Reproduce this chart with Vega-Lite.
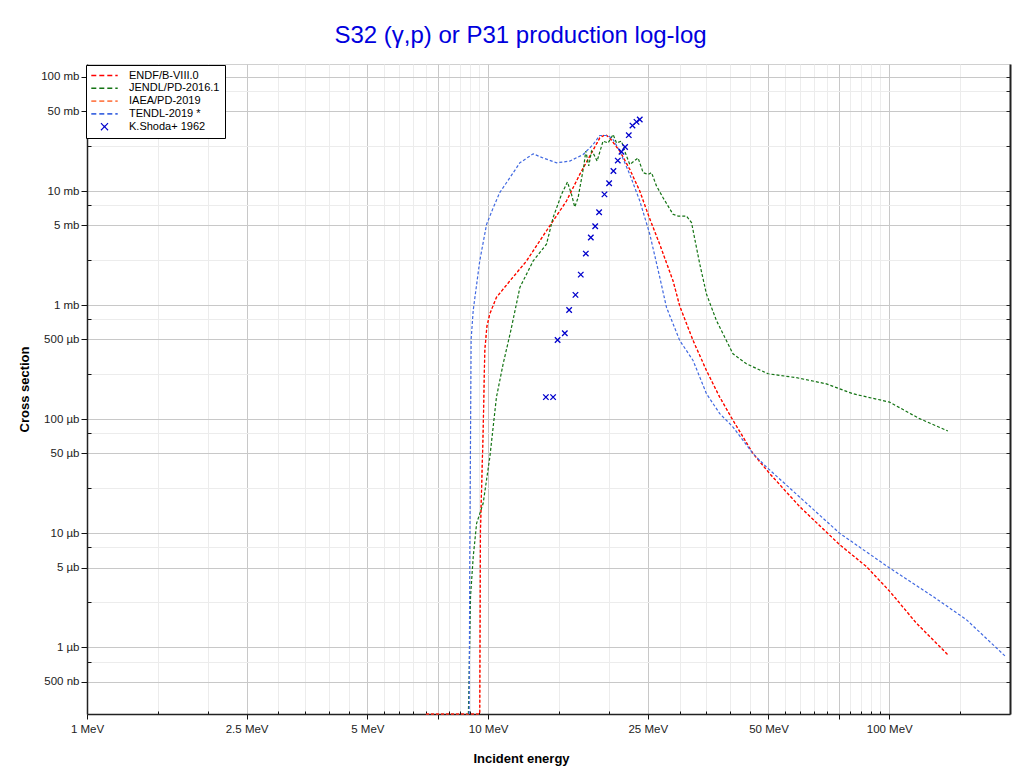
{
  "$schema": "https://vega.github.io/schema/vega-lite/v6.json",
  "width": 923,
  "height": 650,
  "autosize": {"type": "none"},
  "padding": {"left": 87, "top": 64, "right": 14, "bottom": 60},
  "background": "white",
  "title": {
    "text": "S32 (γ,p) or P31 production log-log",
    "color": "#0000dd",
    "fontSize": 24,
    "fontWeight": "normal",
    "font": "Liberation Sans",
    "anchor": "middle",
    "dx": -28,
    "dy": 24,
    "offset": 21,
    "baseline": "alphabetic"
  },
  "config": {
    "font": "Liberation Sans",
    "view": {"stroke": "#d0d0d0"}
  },
  "data": {
    "values": [
      {"s": "ENDF/B-VIII.0", "e": 7.0, "v": 1e-7},
      {"s": "ENDF/B-VIII.0", "e": 9.5, "v": 1e-7},
      {"s": "ENDF/B-VIII.0", "e": 9.53, "v": 0.00024},
      {"s": "ENDF/B-VIII.0", "e": 9.57, "v": 0.0107},
      {"s": "ENDF/B-VIII.0", "e": 9.72, "v": 0.0798},
      {"s": "ENDF/B-VIII.0", "e": 9.81, "v": 0.40},
      {"s": "ENDF/B-VIII.0", "e": 9.93, "v": 0.65},
      {"s": "ENDF/B-VIII.0", "e": 10.1, "v": 0.84},
      {"s": "ENDF/B-VIII.0", "e": 10.49, "v": 1.17},
      {"s": "ENDF/B-VIII.0", "e": 11.33, "v": 1.63},
      {"s": "ENDF/B-VIII.0", "e": 12.47, "v": 2.44},
      {"s": "ENDF/B-VIII.0", "e": 13.45, "v": 3.66},
      {"s": "ENDF/B-VIII.0", "e": 14.52, "v": 5.47},
      {"s": "ENDF/B-VIII.0", "e": 15.68, "v": 8.18},
      {"s": "ENDF/B-VIII.0", "e": 16.92, "v": 14.0},
      {"s": "ENDF/B-VIII.0", "e": 17.92, "v": 20.2},
      {"s": "ENDF/B-VIII.0", "e": 18.98, "v": 29.2},
      {"s": "ENDF/B-VIII.0", "e": 19.61, "v": 31.3},
      {"s": "ENDF/B-VIII.0", "e": 20.1, "v": 29.2},
      {"s": "ENDF/B-VIII.0", "e": 21.29, "v": 22.4},
      {"s": "ENDF/B-VIII.0", "e": 22.55, "v": 15.5},
      {"s": "ENDF/B-VIII.0", "e": 23.88, "v": 10.0},
      {"s": "ENDF/B-VIII.0", "e": 25.2, "v": 5.9},
      {"s": "ENDF/B-VIII.0", "e": 26.79, "v": 3.4},
      {"s": "ENDF/B-VIII.0", "e": 28.91, "v": 1.63},
      {"s": "ENDF/B-VIII.0", "e": 30.04, "v": 0.98},
      {"s": "ENDF/B-VIII.0", "e": 32.43, "v": 0.489},
      {"s": "ENDF/B-VIII.0", "e": 35.02, "v": 0.267},
      {"s": "ENDF/B-VIII.0", "e": 37.79, "v": 0.156},
      {"s": "ENDF/B-VIII.0", "e": 40.78, "v": 0.0977},
      {"s": "ENDF/B-VIII.0", "e": 45.75, "v": 0.0499},
      {"s": "ENDF/B-VIII.0", "e": 50.35, "v": 0.0333},
      {"s": "ENDF/B-VIII.0", "e": 59.8, "v": 0.0171},
      {"s": "ENDF/B-VIII.0", "e": 75.2, "v": 0.00794},
      {"s": "ENDF/B-VIII.0", "e": 87.7, "v": 0.0051},
      {"s": "ENDF/B-VIII.0", "e": 100.4, "v": 0.00308},
      {"s": "ENDF/B-VIII.0", "e": 116.8, "v": 0.00163},
      {"s": "ENDF/B-VIII.0", "e": 140, "v": 0.00086},
      {"s": "IAEA/PD-2019", "e": 7.0, "v": 1e-7},
      {"s": "IAEA/PD-2019", "e": 9.5, "v": 1e-7},
      {"s": "IAEA/PD-2019", "e": 9.53, "v": 0.00024},
      {"s": "IAEA/PD-2019", "e": 9.57, "v": 0.0107},
      {"s": "IAEA/PD-2019", "e": 9.72, "v": 0.0798},
      {"s": "IAEA/PD-2019", "e": 9.81, "v": 0.40},
      {"s": "IAEA/PD-2019", "e": 9.93, "v": 0.65},
      {"s": "IAEA/PD-2019", "e": 10.1, "v": 0.84},
      {"s": "IAEA/PD-2019", "e": 10.49, "v": 1.17},
      {"s": "IAEA/PD-2019", "e": 11.33, "v": 1.63},
      {"s": "IAEA/PD-2019", "e": 12.47, "v": 2.44},
      {"s": "IAEA/PD-2019", "e": 13.45, "v": 3.66},
      {"s": "IAEA/PD-2019", "e": 14.52, "v": 5.47},
      {"s": "IAEA/PD-2019", "e": 15.68, "v": 8.18},
      {"s": "IAEA/PD-2019", "e": 16.92, "v": 14.0},
      {"s": "IAEA/PD-2019", "e": 17.92, "v": 20.2},
      {"s": "IAEA/PD-2019", "e": 18.98, "v": 29.2},
      {"s": "IAEA/PD-2019", "e": 19.61, "v": 31.3},
      {"s": "IAEA/PD-2019", "e": 20.1, "v": 29.2},
      {"s": "IAEA/PD-2019", "e": 21.29, "v": 22.4},
      {"s": "IAEA/PD-2019", "e": 22.55, "v": 15.5},
      {"s": "IAEA/PD-2019", "e": 23.88, "v": 10.0},
      {"s": "IAEA/PD-2019", "e": 25.2, "v": 5.9},
      {"s": "IAEA/PD-2019", "e": 26.79, "v": 3.4},
      {"s": "IAEA/PD-2019", "e": 28.91, "v": 1.63},
      {"s": "IAEA/PD-2019", "e": 30.04, "v": 0.98},
      {"s": "IAEA/PD-2019", "e": 32.43, "v": 0.489},
      {"s": "IAEA/PD-2019", "e": 35.02, "v": 0.267},
      {"s": "IAEA/PD-2019", "e": 37.79, "v": 0.156},
      {"s": "IAEA/PD-2019", "e": 40.78, "v": 0.0977},
      {"s": "IAEA/PD-2019", "e": 45.75, "v": 0.0499},
      {"s": "IAEA/PD-2019", "e": 50.35, "v": 0.0333},
      {"s": "IAEA/PD-2019", "e": 59.8, "v": 0.0171},
      {"s": "IAEA/PD-2019", "e": 75.2, "v": 0.00794},
      {"s": "IAEA/PD-2019", "e": 87.7, "v": 0.0051},
      {"s": "IAEA/PD-2019", "e": 100.4, "v": 0.00308},
      {"s": "IAEA/PD-2019", "e": 116.8, "v": 0.00163},
      {"s": "IAEA/PD-2019", "e": 140, "v": 0.00086},
      {"s": "JENDL/PD-2016.1", "e": 8.93, "v": 0.00024},
      {"s": "JENDL/PD-2016.1", "e": 9.04, "v": 0.0028},
      {"s": "JENDL/PD-2016.1", "e": 9.18, "v": 0.0062},
      {"s": "JENDL/PD-2016.1", "e": 9.36, "v": 0.0122},
      {"s": "JENDL/PD-2016.1", "e": 9.72, "v": 0.0183},
      {"s": "JENDL/PD-2016.1", "e": 10.1, "v": 0.0467},
      {"s": "JENDL/PD-2016.1", "e": 10.49, "v": 0.156},
      {"s": "JENDL/PD-2016.1", "e": 10.9, "v": 0.305},
      {"s": "JENDL/PD-2016.1", "e": 11.39, "v": 0.597},
      {"s": "JENDL/PD-2016.1", "e": 12.0, "v": 1.43},
      {"s": "JENDL/PD-2016.1", "e": 12.95, "v": 2.44},
      {"s": "JENDL/PD-2016.1", "e": 13.98, "v": 3.42},
      {"s": "JENDL/PD-2016.1", "e": 14.52, "v": 5.85},
      {"s": "JENDL/PD-2016.1", "e": 15.24, "v": 9.35},
      {"s": "JENDL/PD-2016.1", "e": 15.77, "v": 12.0},
      {"s": "JENDL/PD-2016.1", "e": 16.14, "v": 9.35},
      {"s": "JENDL/PD-2016.1", "e": 16.44, "v": 7.24},
      {"s": "JENDL/PD-2016.1", "e": 16.76, "v": 8.74},
      {"s": "JENDL/PD-2016.1", "e": 17.32, "v": 16.6},
      {"s": "JENDL/PD-2016.1", "e": 17.52, "v": 22.4},
      {"s": "JENDL/PD-2016.1", "e": 17.82, "v": 16.6},
      {"s": "JENDL/PD-2016.1", "e": 18.1, "v": 22.4},
      {"s": "JENDL/PD-2016.1", "e": 18.34, "v": 21.0},
      {"s": "JENDL/PD-2016.1", "e": 18.69, "v": 18.3},
      {"s": "JENDL/PD-2016.1", "e": 19.34, "v": 27.4},
      {"s": "JENDL/PD-2016.1", "e": 19.91, "v": 26.4},
      {"s": "JENDL/PD-2016.1", "e": 20.49, "v": 31.3},
      {"s": "JENDL/PD-2016.1", "e": 20.9, "v": 26.4},
      {"s": "JENDL/PD-2016.1", "e": 21.5, "v": 27.4},
      {"s": "JENDL/PD-2016.1", "e": 21.9, "v": 22.4},
      {"s": "JENDL/PD-2016.1", "e": 22.55, "v": 17.1},
      {"s": "JENDL/PD-2016.1", "e": 23.65, "v": 19.5},
      {"s": "JENDL/PD-2016.1", "e": 24.35, "v": 14.5},
      {"s": "JENDL/PD-2016.1", "e": 25.05, "v": 14.0},
      {"s": "JENDL/PD-2016.1", "e": 25.55, "v": 14.5},
      {"s": "JENDL/PD-2016.1", "e": 26.28, "v": 11.1},
      {"s": "JENDL/PD-2016.1", "e": 27.3, "v": 8.74},
      {"s": "JENDL/PD-2016.1", "e": 28.91, "v": 6.25},
      {"s": "JENDL/PD-2016.1", "e": 29.75, "v": 6.04},
      {"s": "JENDL/PD-2016.1", "e": 31.22, "v": 6.04},
      {"s": "JENDL/PD-2016.1", "e": 32.14, "v": 5.29},
      {"s": "JENDL/PD-2016.1", "e": 33.7, "v": 2.29},
      {"s": "JENDL/PD-2016.1", "e": 35.02, "v": 1.25},
      {"s": "JENDL/PD-2016.1", "e": 37.09, "v": 0.731},
      {"s": "JENDL/PD-2016.1", "e": 40.78, "v": 0.374},
      {"s": "JENDL/PD-2016.1", "e": 44.05, "v": 0.306},
      {"s": "JENDL/PD-2016.1", "e": 49.86, "v": 0.25},
      {"s": "JENDL/PD-2016.1", "e": 58.7, "v": 0.231},
      {"s": "JENDL/PD-2016.1", "e": 69.7, "v": 0.204},
      {"s": "JENDL/PD-2016.1", "e": 81.2, "v": 0.167},
      {"s": "JENDL/PD-2016.1", "e": 100.2, "v": 0.141},
      {"s": "JENDL/PD-2016.1", "e": 119, "v": 0.101},
      {"s": "JENDL/PD-2016.1", "e": 140, "v": 0.0787},
      {"s": "TENDL-2019 *", "e": 8.97, "v": 0.00024},
      {"s": "TENDL-2019 *", "e": 9.0, "v": 0.0055},
      {"s": "TENDL-2019 *", "e": 9.07, "v": 0.5},
      {"s": "TENDL-2019 *", "e": 9.18, "v": 0.9},
      {"s": "TENDL-2019 *", "e": 9.53, "v": 2.44},
      {"s": "TENDL-2019 *", "e": 9.91, "v": 5.1},
      {"s": "TENDL-2019 *", "e": 10.29, "v": 7.1},
      {"s": "TENDL-2019 *", "e": 10.69, "v": 9.7},
      {"s": "TENDL-2019 *", "e": 11.33, "v": 13.1},
      {"s": "TENDL-2019 *", "e": 12.0, "v": 17.7},
      {"s": "TENDL-2019 *", "e": 12.95, "v": 21.2},
      {"s": "TENDL-2019 *", "e": 13.71, "v": 19.5},
      {"s": "TENDL-2019 *", "e": 14.81, "v": 17.7},
      {"s": "TENDL-2019 *", "e": 15.98, "v": 18.3},
      {"s": "TENDL-2019 *", "e": 17.25, "v": 20.9},
      {"s": "TENDL-2019 *", "e": 18.27, "v": 25.6},
      {"s": "TENDL-2019 *", "e": 18.98, "v": 30.7},
      {"s": "TENDL-2019 *", "e": 19.91, "v": 30.7},
      {"s": "TENDL-2019 *", "e": 20.49, "v": 28.3},
      {"s": "TENDL-2019 *", "e": 21.29, "v": 22.4},
      {"s": "TENDL-2019 *", "e": 22.55, "v": 14.0},
      {"s": "TENDL-2019 *", "e": 23.88, "v": 8.2},
      {"s": "TENDL-2019 *", "e": 25.29, "v": 4.2},
      {"s": "TENDL-2019 *", "e": 26.79, "v": 1.75},
      {"s": "TENDL-2019 *", "e": 27.84, "v": 0.955},
      {"s": "TENDL-2019 *", "e": 30.04, "v": 0.489},
      {"s": "TENDL-2019 *", "e": 32.43, "v": 0.327},
      {"s": "TENDL-2019 *", "e": 35.02, "v": 0.167},
      {"s": "TENDL-2019 *", "e": 37.79, "v": 0.112},
      {"s": "TENDL-2019 *", "e": 40.78, "v": 0.0853},
      {"s": "TENDL-2019 *", "e": 45.75, "v": 0.0499},
      {"s": "TENDL-2019 *", "e": 49.4, "v": 0.0381},
      {"s": "TENDL-2019 *", "e": 75.2, "v": 0.01},
      {"s": "TENDL-2019 *", "e": 100.4, "v": 0.00493},
      {"s": "TENDL-2019 *", "e": 128.5, "v": 0.00279},
      {"s": "TENDL-2019 *", "e": 155.6, "v": 0.00175},
      {"s": "TENDL-2019 *", "e": 195.7, "v": 0.00082},
      {"s": "K.Shoda+ 1962", "e": 13.93, "v": 0.156},
      {"s": "K.Shoda+ 1962", "e": 14.52, "v": 0.156},
      {"s": "K.Shoda+ 1962", "e": 14.9, "v": 0.495},
      {"s": "K.Shoda+ 1962", "e": 15.53, "v": 0.566},
      {"s": "K.Shoda+ 1962", "e": 15.92, "v": 0.906},
      {"s": "K.Shoda+ 1962", "e": 16.51, "v": 1.23},
      {"s": "K.Shoda+ 1962", "e": 17.02, "v": 1.85},
      {"s": "K.Shoda+ 1962", "e": 17.52, "v": 2.83},
      {"s": "K.Shoda+ 1962", "e": 18.03, "v": 3.91},
      {"s": "K.Shoda+ 1962", "e": 18.49, "v": 4.91},
      {"s": "K.Shoda+ 1962", "e": 18.91, "v": 6.51},
      {"s": "K.Shoda+ 1962", "e": 19.5, "v": 9.35},
      {"s": "K.Shoda+ 1962", "e": 20.03, "v": 11.7},
      {"s": "K.Shoda+ 1962", "e": 20.53, "v": 15.0},
      {"s": "K.Shoda+ 1962", "e": 21.05, "v": 18.5},
      {"s": "K.Shoda+ 1962", "e": 21.5, "v": 22.1},
      {"s": "K.Shoda+ 1962", "e": 21.95, "v": 24.3},
      {"s": "K.Shoda+ 1962", "e": 22.42, "v": 30.9},
      {"s": "K.Shoda+ 1962", "e": 22.9, "v": 37.5},
      {"s": "K.Shoda+ 1962", "e": 23.44, "v": 40.4},
      {"s": "K.Shoda+ 1962", "e": 23.88, "v": 42.4}
    ]
  },
  "encoding": {
    "color": {
      "field": "s",
      "type": "nominal",
      "scale": {
        "domain": ["ENDF/B-VIII.0", "JENDL/PD-2016.1", "IAEA/PD-2019", "TENDL-2019 *", "K.Shoda+ 1962"],
        "range": ["#ff0000", "#137313", "#ff7f50", "#4169e1", "#0000cc"]
      },
      "legend": {
        "title": null,
        "orient": "none",
        "legendX": -1,
        "legendY": 1,
        "direction": "vertical",
        "fillColor": "white",
        "strokeColor": "black",
        "padding": 5,
        "labelFont": "Liberation Sans",
        "labelFontSize": 11,
        "labelColor": "#000",
        "labelOffset": 19,
        "symbolType": "M-2.4,0L2.4,0",
        "symbolSize": 121,
        "symbolOffset": 8,
        "symbolStrokeWidth": 1.6,
        "symbolDash": [5, 3],
        "rowPadding": 0.8,
        "encode": {
          "symbols": {
            "update": {
              "shape": {"signal": "datum.value === 'K.Shoda+ 1962' ? 'M-0.64,-0.64L0.64,0.64M0.64,-0.64L-0.64,0.64' : 'M-2.4,0L2.4,0'"},
              "size": {"value": 121},
              "strokeDash": {"signal": "datum.value === 'K.Shoda+ 1962' ? [1, 0] : [5, 3]"},
              "strokeWidth": {"signal": "datum.value === 'K.Shoda+ 1962' ? 1.2 : 1.6"}
            }
          }
        }
      }
    }
  },
  "layer": [
    {
      "transform": [{"filter": "datum.s === 'IAEA/PD-2019'"}],
      "mark": {"type": "line", "strokeDash": [3, 2], "strokeWidth": 1.2},
      "encoding": {
        "x": {
          "field": "e",
          "type": "quantitative",
          "scale": {"type": "log", "domain": [1, 200], "nice": false},
          "axis": {
            "title": "Incident energy",
            "values": [1, 1.5, 2, 2.5, 3, 3.5, 4, 4.5, 5, 5.5, 6, 6.5, 7, 7.5, 8, 8.5, 9, 9.5, 10, 15, 20, 25, 30, 35, 40, 45, 50, 55, 60, 65, 70, 75, 80, 85, 90, 95, 100, 150],
            "labelExpr": "indexof([1, 2.5, 5, 10, 25, 50, 100], datum.value) >= 0 ? datum.value + ' MeV' : ''",
            "labelFontSize": 11.5,
            "labelColor": "#222",
            "labelPadding": 4,
            "labelOverlap": false,
            "labelFlush": false,
            "grid": true,
            "gridColor": {"condition": {"test": "indexof([1, 2.5, 5, 7.5, 10, 25, 50, 75, 100], datum.value) >= 0", "value": "#c8c8c8"}, "value": "#ececec"},
            "gridWidth": 1,
            "tickColor": "#111",
            "tickWidth": 1,
            "tickSize": {"condition": {"test": "indexof([1, 2.5, 5, 7.5, 10, 25, 50, 75, 100], datum.value) >= 0", "value": 5}, "value": -3},
            "domainColor": "#222",
            "domainWidth": 1.5,
            "titleFontSize": 13,
            "titleFontWeight": "bold",
            "titleColor": "#000",
            "titleX": 434,
            "titleY": 48.7,
            "titleBaseline": "alphabetic"
          }
        },
        "y": {
          "field": "v",
          "type": "quantitative",
          "scale": {"type": "log", "domain": [0.00026, 130], "nice": false, "clamp": true},
          "axis": {
            "title": "Cross section",
            "orient": "left",
            "values": [100, 75, 50, 25, 10, 7.5, 5, 2.5, 1, 0.75, 0.5, 0.25, 0.1, 0.075, 0.05, 0.025, 0.01, 0.0075, 0.005, 0.0025, 0.001, 0.00075, 0.0005],
            "labelExpr": "indexof([100, 50, 10, 5, 1, 0.5, 0.1, 0.05, 0.01, 0.005, 0.001, 0.0005], datum.value) >= 0 ? (datum.value >= 1 ? datum.value + ' mb' : (datum.value >= 0.001 ? round(datum.value * 1000) + ' µb' : round(datum.value * 1000000) + ' nb')) : ''",
            "labelFontSize": 11.5,
            "labelColor": "#222",
            "labelPadding": 2,
            "labelOverlap": false,
            "labelFlush": false,
            "grid": true,
            "gridColor": {"condition": {"test": "indexof([100, 50, 10, 5, 1, 0.5, 0.1, 0.05, 0.01, 0.005, 0.001, 0.0005], datum.value) >= 0", "value": "#c8c8c8"}, "value": "#ececec"},
            "gridWidth": 1,
            "tickColor": "#111",
            "tickWidth": 1,
            "tickSize": {"condition": {"test": "indexof([100, 50, 10, 5, 1, 0.5, 0.1, 0.05, 0.01, 0.005, 0.001, 0.0005], datum.value) >= 0", "value": 6}, "value": -4},
            "domainColor": "#222",
            "domainWidth": 1.5,
            "titleFontSize": 13,
            "titleFontWeight": "bold",
            "titleColor": "#000",
            "titleX": -56
          }
        }
      }
    },
    {
      "transform": [{"filter": "datum.s !== 'IAEA/PD-2019' && datum.s !== 'K.Shoda+ 1962'"}],
      "mark": {"type": "line", "strokeDash": [3, 2], "strokeWidth": 1.2},
      "encoding": {
        "x": {"field": "e", "type": "quantitative", "scale": {"type": "log", "domain": [1, 200], "nice": false}, "axis": null},
        "y": {"field": "v", "type": "quantitative", "scale": {"type": "log", "domain": [0.00026, 130], "nice": false, "clamp": true}, "axis": null}
      }
    },
    {
      "transform": [{"filter": "datum.s === 'K.Shoda+ 1962'"}],
      "mark": {"type": "point", "shape": "M-1,-1L1,1M1,-1L-1,1", "filled": false, "size": 30, "strokeWidth": 1.3, "opacity": 1},
      "encoding": {
        "x": {"field": "e", "type": "quantitative", "scale": {"type": "log", "domain": [1, 200], "nice": false}, "axis": null},
        "y": {
          "field": "v",
          "type": "quantitative",
          "scale": {"type": "log", "domain": [0.00026, 130], "nice": false, "clamp": true},
          "axis": {
            "orient": "right",
            "title": null,
            "values": [100, 75, 50, 25, 10, 7.5, 5, 2.5, 1, 0.75, 0.5, 0.25, 0.1, 0.075, 0.05, 0.025, 0.01, 0.0075, 0.005, 0.0025, 0.001, 0.00075, 0.0005],
            "labels": false,
            "grid": false,
            "tickSize": -4,
            "tickColor": "#222",
            "domainColor": "#222",
            "domainWidth": 2
          }
        }
      }
    }
  ],
  "resolve": {"axis": {"x": "independent", "y": "independent"}}
}
